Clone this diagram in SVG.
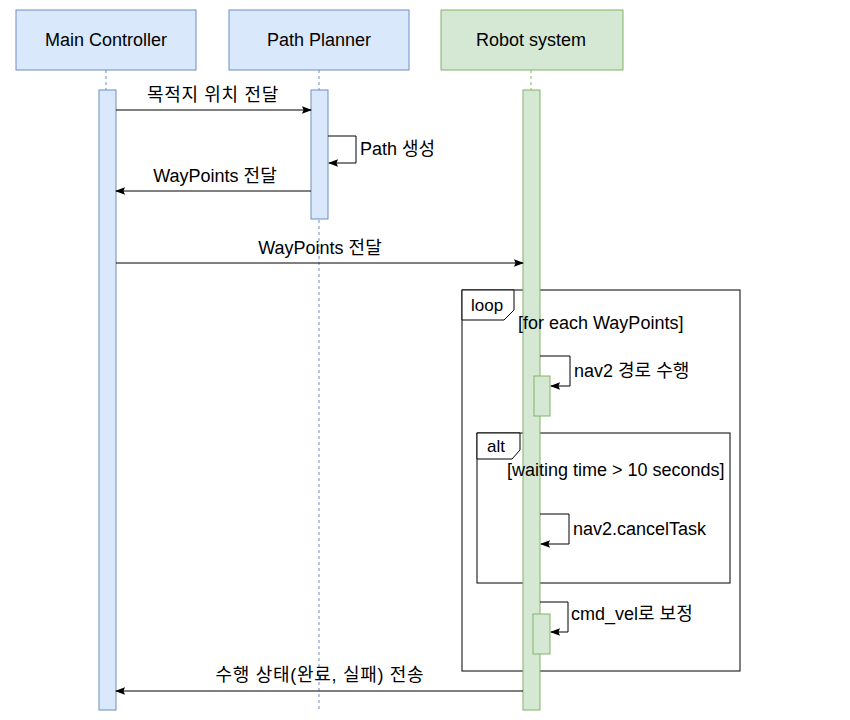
<svg xmlns="http://www.w3.org/2000/svg" width="850" height="720" viewBox="0 0 850 720">
<defs>
<style>
text{font-family:"Liberation Sans","Noto Sans CJK KR",sans-serif;font-size:18px;fill:#000}
.tl{font-size:17px}
.ko{letter-spacing:0.7px}
.blue{fill:#dae8fc;stroke:#6c8ebf;stroke-width:1}
.green{fill:#d5e8d4;stroke:#82b366;stroke-width:1}
.lb{stroke:#6c8ebf;stroke-dasharray:3 3;fill:none}
.lg{stroke:#82b366;stroke-dasharray:3 3;fill:none}
.msg{stroke:#000;stroke-width:1;fill:none;marker-end:url(#ah)}
.frame{fill:none;stroke:#000;stroke-width:1}
.tab{fill:#fff;stroke:#000;stroke-width:1}
.c{text-anchor:middle}
</style>
<marker id="ah" viewBox="0 0 10 10" refX="9" refY="5" markerWidth="10" markerHeight="10" markerUnits="userSpaceOnUse" orient="auto">
<path d="M0,1.2 L10,5 L0,8.8 L1.5,5 Z" fill="#000"/>
</marker>
</defs>
<rect width="850" height="720" fill="#fff"/>

<g id="lifelines">
<line class="lb" x1="106" y1="70" x2="106" y2="712"/>
<line class="lb" x1="319" y1="70" x2="319" y2="712"/>
<line class="lg" x1="531" y1="70" x2="531" y2="712"/>
</g>

<g id="frame-loop">
<rect class="frame" x="462" y="290" width="278" height="381"/>
<path class="tab" d="M462,290 H514 V310 L504,320 H462 Z"/>
<text class="tl" x="471" y="311">loop</text>
</g>

<g id="frame-alt">
<rect class="frame" x="477" y="433" width="253" height="150"/>
<path class="tab" d="M477,433 H520 V450 L512,459 H477 Z"/>
<text class="tl" x="487" y="452">alt</text>
</g>

<g id="main-controller">
<rect class="blue" x="16" y="10" width="180" height="60"/>
<text class="c" x="106" y="46">Main Controller</text>
<rect class="blue" x="99" y="90" width="17" height="620"/>
</g>

<g id="path-planner">
<rect class="blue" x="229" y="10" width="180" height="60"/>
<text class="c" x="319" y="46">Path Planner</text>
<rect class="blue" x="311" y="90" width="17" height="129"/>
</g>

<g id="robot-system">
<rect class="green" x="441" y="10" width="182" height="60"/>
<text class="c" x="531" y="46">Robot system</text>
<rect class="green" x="523" y="90" width="17" height="620"/>
<rect class="green" x="534" y="376" width="16" height="40"/>
<rect class="green" x="533" y="614" width="17" height="40"/>
</g>

<g id="guards">
<text x="518" y="329">[for each WayPoints]</text>
<text x="507" y="476">[waiting time &gt; 10 seconds]</text>
</g>

<g id="connectors">
<line class="msg" x1="116" y1="110" x2="311" y2="110"/>
<text class="c ko" x="213" y="101">목적지 위치 전달</text>

<path class="msg" d="M328,136 H356 V163 H329"/>
<text x="360" y="155">Path 생성</text>

<line class="msg" x1="311" y1="191" x2="116" y2="191"/>
<text class="c" x="215" y="182">WayPoints 전달</text>

<line class="msg" x1="116" y1="263" x2="523" y2="263"/>
<text class="c" x="320" y="254">WayPoints 전달</text>

<path class="msg" d="M540,356 H570 V386 H551"/>
<text x="574" y="377">nav2 경로 수행</text>

<path class="msg" d="M540,514 H569 V544 H541"/>
<text x="573" y="535">nav2.cancelTask</text>

<path class="msg" d="M540,602 H568 V632 H551"/>
<text x="571" y="620">cmd_vel로 보정</text>

<line class="msg" x1="523" y1="691" x2="116" y2="691"/>
<text class="c ko" x="320" y="681">수행 상태(완료, 실패) 전송</text>
</g>
</svg>
